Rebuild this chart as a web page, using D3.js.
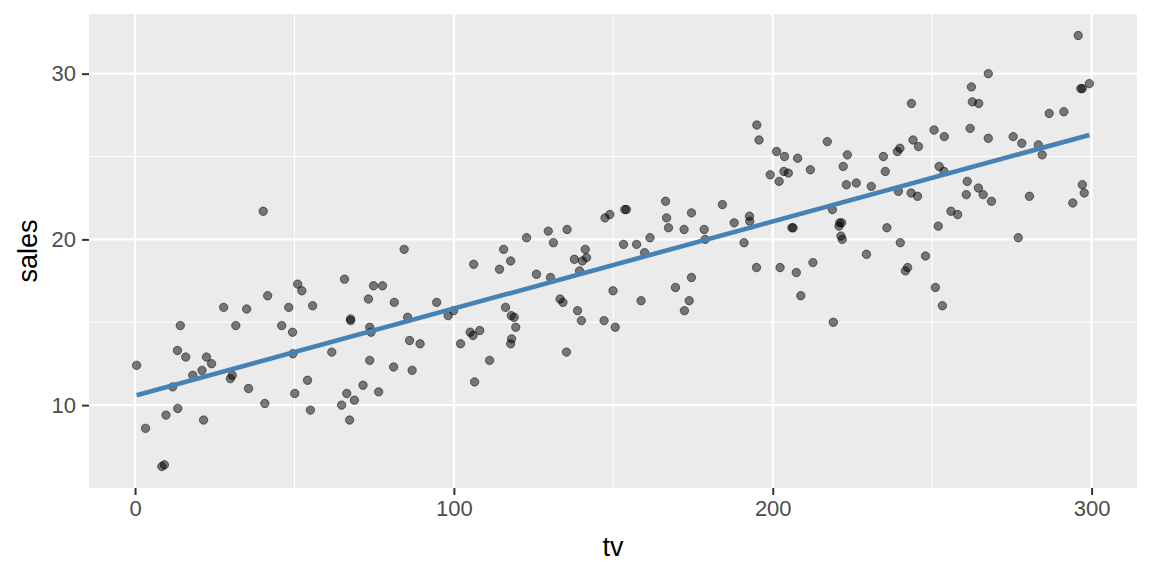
<!DOCTYPE html>
<html>
<head>
<meta charset="utf-8">
<script src="https://cdn.jsdelivr.net/npm/d3@7"></script>
<style>
  body { margin: 0; background: #ffffff; }
  svg { display: block; font-family: "Liberation Sans", Arial, sans-serif; }
</style>
</head>
<body>
<svg width="1152" height="576"></svg>
<script>
// tv spend vs sales
const tv = [
  0.5, 3.3, 8.4, 9.2, 9.7, 11.8, 13.3, 13.4, 14.2, 15.9,
  18.1, 21.0, 21.5, 22.4, 24.0, 27.8, 29.9, 30.5, 31.6, 35.0,
  35.6, 40.2, 40.7, 41.6, 46.0, 48.2, 49.4, 49.5, 50.1, 51.0,
  52.3, 54.1, 55.0, 55.7, 61.7, 64.8, 65.7, 66.4, 67.3, 67.6,
  67.6, 68.8, 71.5, 73.2, 73.6, 73.6, 74.0, 74.8, 76.4, 77.6,
  81.1, 81.3, 84.4, 85.5, 86.1, 86.9, 89.4, 94.6, 98.2, 99.9,
  102.1, 105.1, 106.0, 106.2, 106.5, 108.1, 111.2, 114.3, 115.6, 116.2,
  117.8, 117.8, 118.0, 118.1, 118.9, 119.4, 122.8, 125.9, 129.6, 130.3,
  131.2, 133.3, 134.2, 135.3, 135.5, 137.8, 138.8, 139.4, 140.0, 140.3,
  141.2, 141.6, 147.1, 147.4, 148.9, 149.9, 150.6, 153.2, 153.6, 154.1,
  157.3, 158.7, 159.8, 161.5, 166.4, 166.7, 167.3, 169.5, 172.2, 172.3,
  173.8, 174.5, 174.5, 178.5, 178.8, 184.2, 187.9, 191.0, 192.7, 192.8,
  194.9, 195.0, 195.7, 199.2, 201.2, 202.0, 202.3, 203.5, 203.7, 204.9,
  206.0, 206.4, 207.4, 207.8, 208.8, 211.8, 212.6, 217.1, 218.7, 219.0,
  220.8, 221.0, 221.4, 221.6, 221.8, 222.1, 223.1, 223.4, 226.2, 229.4,
  230.9, 234.7, 235.3, 235.8, 239.1, 239.4, 239.9, 240.0, 241.6, 242.3,
  243.4, 243.5, 244.0, 245.4, 245.7, 247.9, 250.6, 251.0, 251.9, 252.2,
  253.2, 253.7, 253.8, 255.9, 258.0, 260.7, 261.0, 261.9, 262.3, 262.6,
  264.5, 264.6, 266.0, 267.6, 267.6, 268.6, 275.4, 277.0, 278.1, 280.5,
  283.3, 284.5, 286.7, 291.3, 294.1, 295.8, 296.6, 297.1, 297.1, 297.7,
  299.3
];
const sales = [
  12.4, 8.6, 6.3, 6.4, 9.4, 11.1, 13.3, 9.8, 14.8, 12.9,
  11.8, 12.1, 9.1, 12.9, 12.5, 15.9, 11.6, 11.8, 14.8, 15.8,
  11.0, 21.7, 10.1, 16.6, 14.8, 15.9, 14.4, 13.1, 10.7, 17.3,
  16.9, 11.5, 9.7, 16.0, 13.2, 10.0, 17.6, 10.7, 9.1, 15.2,
  15.1, 10.3, 11.2, 16.4, 14.7, 12.7, 14.4, 17.2, 10.8, 17.2,
  12.3, 16.2, 19.4, 15.3, 13.9, 12.1, 13.7, 16.2, 15.4, 15.7,
  13.7, 14.4, 14.2, 18.5, 11.4, 14.5, 12.7, 18.2, 19.4, 15.9,
  18.7, 13.7, 15.4, 14.0, 15.3, 14.7, 20.1, 17.9, 20.5, 17.7,
  19.8, 16.4, 16.2, 13.2, 20.6, 18.8, 15.7, 18.1, 15.1, 18.7,
  19.4, 18.9, 15.1, 21.3, 21.5, 16.9, 14.7, 19.7, 21.8, 21.8,
  19.7, 16.3, 19.2, 20.1, 22.3, 21.3, 20.7, 17.1, 20.6, 15.7,
  16.3, 21.6, 17.7, 20.6, 20.0, 22.1, 21.0, 19.8, 21.4, 21.1,
  18.3, 26.9, 26.0, 23.9, 25.3, 23.5, 18.3, 24.1, 25.0, 24.0,
  20.7, 20.7, 18.0, 24.9, 16.6, 24.2, 18.6, 25.9, 21.8, 15.0,
  20.8, 21.0, 20.2, 21.0, 20.0, 24.4, 23.3, 25.1, 23.4, 19.1,
  23.2, 25.0, 24.1, 20.7, 25.3, 22.9, 25.5, 19.8, 18.1, 18.3,
  22.8, 28.2, 26.0, 22.6, 25.6, 19.0, 26.6, 17.1, 20.8, 24.4,
  16.0, 24.1, 26.2, 21.7, 21.5, 22.7, 23.5, 26.7, 29.2, 28.3,
  23.1, 28.2, 22.7, 30.0, 26.1, 22.3, 26.2, 20.1, 25.8, 22.6,
  25.7, 25.1, 27.6, 27.7, 22.2, 32.3, 29.1, 29.1, 23.3, 22.8,
  29.4
];
const xBreaks = [0, 100, 200, 300];
const xMinor = [50, 150, 250];
const yBreaks = [10, 20, 30];
const yMinor = [15, 25];

const points = tv.map((d, i) => ({ tv: d, sales: sales[i] }));

const margin = { top: 14, right: 15, bottom: 88, left: 89 };
const width = 1152, height = 576;

// ggplot style 5% expansion
function expand(ext) {
  const pad = (ext[1] - ext[0]) * 0.05;
  return [ext[0] - pad, ext[1] + pad];
}

const xScale = d3.scaleLinear()
  .domain(expand(d3.extent(tv)))
  .range([margin.left, width - margin.right]);
const yScale = d3.scaleLinear()
  .domain(expand(d3.extent(sales)))
  .range([height - margin.bottom, margin.top]);

const svg = d3.select("svg");

// panel background
svg.append("rect")
  .attr("x", margin.left)
  .attr("y", margin.top)
  .attr("width", width - margin.right - margin.left)
  .attr("height", height - margin.bottom - margin.top)
  .attr("fill", "#ebebeb");

const grid = svg.append("g");
grid.selectAll(".xminor").data(xMinor).enter().append("line")
  .attr("x1", d => xScale(d)).attr("x2", d => xScale(d))
  .attr("y1", margin.top).attr("y2", height - margin.bottom)
  .attr("stroke", "#fff").attr("stroke-width", 1.1);
grid.selectAll(".yminor").data(yMinor).enter().append("line")
  .attr("y1", d => yScale(d)).attr("y2", d => yScale(d))
  .attr("x1", margin.left).attr("x2", width - margin.right)
  .attr("stroke", "#fff").attr("stroke-width", 1.1);
grid.selectAll(".xmajor").data(xBreaks).enter().append("line")
  .attr("x1", d => xScale(d)).attr("x2", d => xScale(d))
  .attr("y1", margin.top).attr("y2", height - margin.bottom)
  .attr("stroke", "#fff").attr("stroke-width", 2.2);
grid.selectAll(".ymajor").data(yBreaks).enter().append("line")
  .attr("y1", d => yScale(d)).attr("y2", d => yScale(d))
  .attr("x1", margin.left).attr("x2", width - margin.right)
  .attr("stroke", "#fff").attr("stroke-width", 2.2);

// points
svg.append("g").selectAll("circle")
  .data(points)
  .enter().append("circle")
  .attr("cx", d => xScale(d.tv))
  .attr("cy", d => yScale(d.sales))
  .attr("r", 4.2)
  .attr("fill", "#000").attr("fill-opacity", 0.5)
  .attr("stroke", "#000").attr("stroke-opacity", 0.5)
  .attr("stroke-width", 1);

// least squares line, like geom_smooth(method = "lm")
const mx = d3.mean(tv), my = d3.mean(sales);
let sxy = 0, sxx = 0;
points.forEach(p => {
  sxy += (p.tv - mx) * (p.sales - my);
  sxx += (p.tv - mx) * (p.tv - mx);
});
const slope = sxy / sxx;
const intercept = my - slope * mx;
const fitX = d3.extent(tv);

svg.append("path")
  .datum(fitX.map(x => [x, intercept + slope * x]))
  .attr("d", d3.line().x(d => xScale(d[0])).y(d => yScale(d[1])))
  .attr("fill", "none")
  .attr("stroke", "#4682b4")
  .attr("stroke-width", 4.6);

// axes
const xAxis = d3.axisBottom(xScale).tickValues(xBreaks).tickSize(7).tickPadding(5);
const yAxis = d3.axisLeft(yScale).tickValues(yBreaks).tickSize(7).tickPadding(6);

const gx = svg.append("g")
  .attr("transform", `translate(0,${height - margin.bottom})`)
  .call(xAxis);
const gy = svg.append("g")
  .attr("transform", `translate(${margin.left},0)`)
  .call(yAxis);

[gx, gy].forEach(g => {
  g.select(".domain").remove();
  g.selectAll(".tick line").attr("stroke", "#333").attr("stroke-width", 2);
  g.selectAll(".tick text")
    .attr("fill", "#4d4d4d")
    .style("font-size", "22px")
    .style("font-family", "'Liberation Sans', Arial, sans-serif");
});

svg.append("text")
  .attr("x", (margin.left + width - margin.right) / 2)
  .attr("y", 556)
  .attr("text-anchor", "middle")
  .style("font-size", "27px")
  .text("tv");

svg.append("text")
  .attr("transform", `translate(37,${(margin.top + height - margin.bottom) / 2}) rotate(-90)`)
  .attr("text-anchor", "middle")
  .style("font-size", "27px")
  .text("sales");
</script>
</body>
</html>
